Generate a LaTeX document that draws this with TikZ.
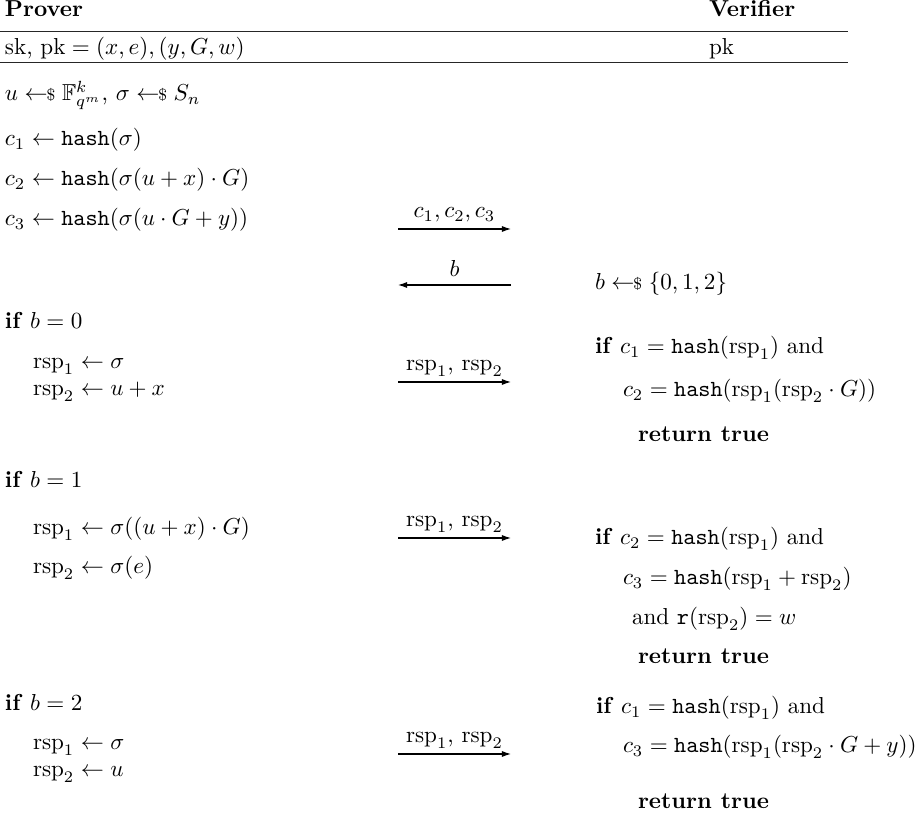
\documentclass[tikz,border=0pt]{standalone}
\usepackage{amsmath,amssymb}
\usetikzlibrary{arrows.meta}

% sampling arrow, hash function and responses
\newcommand{\smpl}{\mathrel{\leftarrow\!\!{\scriptstyle\$}}}
\newcommand{\hsh}{\mathtt{hash}}
\newcommand{\rsp}[1]{\mathrm{rsp}_{#1}}

\tikzset{
  txt/.style={anchor=base west, inner sep=0pt, outer sep=0pt},
  lbl/.style={anchor=base, inner sep=0pt, outer sep=0pt},
  msg/.style={-{Latex[length=3.9pt,width=2.6pt]}, line width=0.45pt},
  hrule/.style={line width=0.5pt, black!85}
}

\begin{document}
\begin{tikzpicture}[x=0.4329pt, y=-0.4329pt]
\useasboundingbox (0,0) rectangle (920,817);

% header
\node[txt] (prv) at (5,17) {\textbf{Prover}};
\node[txt] (vrf) at (709,17) {\textbf{Verifier}};
\coordinate (r1a) at (0,31.5);   \coordinate (r1b) at (848,31.5);
\coordinate (r2a) at (0,62.3);   \coordinate (r2b) at (848,62.3);
\draw[hrule] (r1a) -- (r1b);
\draw[hrule] (r2a) -- (r2b);
\node[txt] (keys) at (5,55) {$\text{sk, pk} = (x,e),(y,G,w)$};
\node[txt] (vpk) at (709,55) {pk};

% commitment
\node[txt] (p1) at (5,101) {$u \smpl \mathbb{F}_{q^m}^k$, $\sigma \smpl S_n$};
\node[txt] (p2) at (5,146) {$c_1 \gets \hsh(\sigma)$};
\node[txt] (p3) at (5,186) {$c_2 \gets \hsh(\sigma(u+x)\cdot G)$};
\node[txt] (p4) at (5,226) {$c_3 \gets \hsh(\sigma(u\cdot G+y))$};

\coordinate (m1s) at (398,229); \coordinate (m1e) at (511,229);
\draw[msg] (m1s) -- (m1e);
\node[lbl] (l1) at (454.5,218) {$c_1,c_2,c_3$};

% challenge
\coordinate (m2s) at (511,285); \coordinate (m2e) at (398,285);
\draw[msg] (m2s) -- (m2e);
\node[lbl] (l2) at (454.5,277) {$b$};
\node[txt] (v1) at (595,290) {$b \smpl \{0,1,2\}$};

% case b = 0
\node[txt] (c0) at (5,329) {\textbf{if} $b=0$};
\node[txt] (c0a) at (33,369) {$\rsp1 \gets \sigma$};
\node[txt] (c0b) at (33,396) {$\rsp2 \gets u+x$};
\coordinate (m3s) at (398,382); \coordinate (m3e) at (511,382);
\draw[msg] (m3s) -- (m3e);
\node[lbl] (l3) at (454.5,371) {$\rsp1$, $\rsp2$};
\node[txt] (v0a) at (595,354) {\textbf{if} $c_1 = \hsh(\rsp1)$ and};
\node[txt] (v0b) at (623,397) {$c_2 = \hsh(\rsp1(\rsp2\cdot G))$};
\node[txt] (v0c) at (638,442) {\textbf{return true}};

% case b = 1
\node[txt] (c1) at (5,488) {\textbf{if} $b=1$};
\node[txt] (c1a) at (33,535) {$\rsp1 \gets \sigma((u+x)\cdot G)$};
\node[txt] (c1b) at (33,574) {$\rsp2 \gets \sigma(e)$};
\coordinate (m4s) at (398,538); \coordinate (m4e) at (511,538);
\draw[msg] (m4s) -- (m4e);
\node[lbl] (l4) at (454.5,527) {$\rsp1$, $\rsp2$};
\node[txt] (v1a) at (595,545) {\textbf{if} $c_2 = \hsh(\rsp1)$ and};
\node[txt] (v1b) at (623,585) {$c_3 = \hsh(\rsp1 + \rsp2)$};
\node[txt] (v1c) at (632,625) {and $\mathtt{r}(\rsp2) = w$};
\node[txt] (v1d) at (638,664) {\textbf{return true}};

% case b = 2
\node[txt] (c2) at (5,711) {\textbf{if} $b=2$};
\node[txt] (c2a) at (33,750) {$\rsp1 \gets \sigma$};
\node[txt] (c2b) at (33,777) {$\rsp2 \gets u$};
\coordinate (m5s) at (398,754); \coordinate (m5e) at (511,754);
\draw[msg] (m5s) -- (m5e);
\node[lbl] (l5) at (454.5,743) {$\rsp1$, $\rsp2$};
\node[txt] (v2a) at (596,714) {\textbf{if} $c_1 = \hsh(\rsp1)$ and};
\node[txt] (v2b) at (623,753) {$c_3 = \hsh(\rsp1(\rsp2\cdot G+y))$};
\node[txt] (v2c) at (638,809) {\textbf{return true}};
\end{tikzpicture}
\end{document}
